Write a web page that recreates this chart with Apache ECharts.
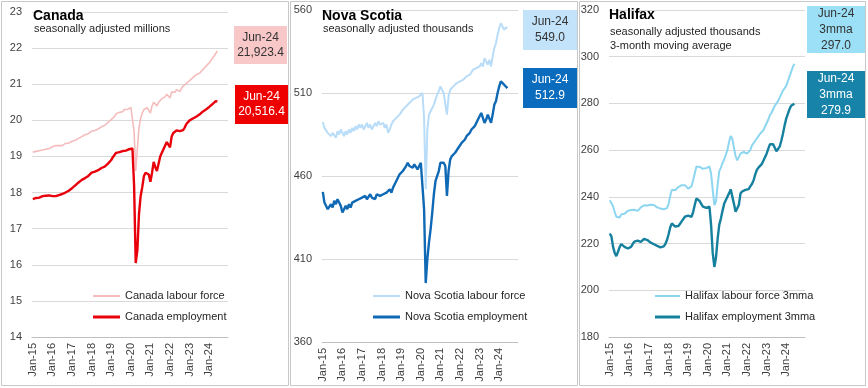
<!DOCTYPE html>
<html><head><meta charset="utf-8">
<script src="https://cdn.jsdelivr.net/npm/echarts@6/dist/echarts.min.js"></script>
<style>html,body{margin:0;padding:0;background:#fff}#c{width:868px;height:388px}</style>
</head><body><div id="c"></div>
<script>
const monthNames = ['Jan','Feb','Mar','Apr','May','Jun','Jul','Aug','Sep','Oct','Nov','Dec'];
const yearLabels = ['15','16','17','18','19','20','21','22','23','24'];
const categories = [];
yearLabels.forEach(y => monthNames.forEach(m => categories.push(m + '-' + y)));

// Canada, millions (Jan-15 .. Jun-24)
const canadaLabourForce = [
19.12,19.15,19.14,19.18,19.16,19.20,19.18,19.22,19.20,19.24,19.22,19.25,
19.27,19.25,19.30,19.28,19.30,19.32,19.30,19.35,19.36,19.38,19.37,19.40,
19.42,19.44,19.45,19.48,19.50,19.52,19.55,19.56,19.60,19.62,19.63,19.66,
19.70,19.68,19.72,19.74,19.76,19.80,19.82,19.84,19.86,19.90,19.94,19.96,
20.02,20.05,20.10,20.18,20.20,20.22,20.25,20.24,20.30,20.32,20.30,20.33,
20.36,20.38,19.70,18.60,19.20,19.80,20.05,20.20,20.30,20.30,20.35,20.35,
20.20,20.40,20.50,20.45,20.40,20.50,20.55,20.60,20.60,20.65,20.72,20.75,
20.62,20.78,20.80,20.78,20.85,20.82,20.80,20.88,20.95,20.98,21.02,21.05,
21.10,21.15,21.18,21.22,21.26,21.28,21.30,21.34,21.40,21.45,21.50,21.55,
21.59,21.65,21.72,21.78,21.85,21.9234];
const canadaEmployment = [
17.82,17.87,17.85,17.88,17.86,17.87,17.90,17.88,17.91,17.90,17.92,17.93,
17.90,17.88,17.90,17.92,17.93,17.95,17.96,17.98,18.00,18.02,18.05,18.08,
18.12,18.16,18.20,18.24,18.28,18.32,18.35,18.38,18.40,18.44,18.46,18.50,
18.55,18.60,18.58,18.60,18.62,18.65,18.68,18.70,18.72,18.76,18.80,18.85,
18.90,18.98,19.02,19.10,19.12,19.12,19.14,19.15,19.18,19.16,19.18,19.20,
19.20,19.22,18.20,16.05,16.40,17.40,17.90,18.15,18.45,18.55,18.60,18.50,
18.30,18.55,18.85,18.70,18.60,18.80,19.00,19.10,19.20,19.25,19.40,19.45,
19.25,19.55,19.65,19.68,19.72,19.72,19.70,19.72,19.73,19.80,19.90,19.95,
20.00,20.02,20.05,20.08,20.10,20.14,20.16,20.20,20.24,20.28,20.30,20.33,
20.37,20.42,20.45,20.50,20.53,20.5164];

// Nova Scotia, thousands
const nsLabourForce = [
492.5,489,488,486,485,484,486,485,483,487,485,488,
486,484,487,485,488,486,489,487,490,488,491,489,
491,488,490,492,489,491,488,490,492,490,493,491,
490,492,489,491,486,488,491,493,492,495,494,497,
498,500,499,502,501,504,503,506,505,507,506,508,
509,510,495,452,488,497,499,501,503,506,509,511,
514,512,510,509,497,508,512,511,514,513,516,515,
517,516,518,518,520,519,521,522,524,523,525,524,
526,528,526,531,529,527,530,526,532,537,540,545,
549,552,550,548,549.5,549.0];
const nsEmployment = [
450.4,444,443,440,441,443,441,445,443,446,444,442,
438,440,442,440,443,441,444,443,445,444,446,445,
447,446,448,446,447,449,447,448,446,449,450,448,
447,449,448,450,449,452,450,453,455,457,458,461,
461,463,462,466,468,466,467,465,467,466,464,466,
468,469,440,395.5,410,420,428,438,449,457,458,463,
468,469,468,466,448,463,470,472,471,474,475,477,
478,480,479,482,484,483,486,488,487,490,492,494,
496,498,495,492,494,497,496,492,497,503,505,510,
514,517,516,515,514,512.9];

// Halifax, thousands, 3-month moving average
const hfxLabourForce = [
238.5,237.8,236,233.5,231.5,230.8,231.2,232.5,233,232.8,233.5,234,
234.2,234.4,234.6,234.5,234.3,234,234.6,235.5,236.2,236.4,236,236.3,
236.4,236.6,236.3,236.5,236,235.5,235.2,235,234.8,234.7,235,235.2,
237,240.5,243,243.2,242.8,243.5,244.2,244.8,245,245.2,245,244.5,
243.5,243,244.5,247,250,253,253.5,252.8,252.2,252,252,252.3,
252.8,253,250,243,236.5,238,245,251,252.5,254.5,256,258,
260,263.5,266,265,261,257.5,255.6,257,258.5,259,259.2,259,
258.5,259,260,262,263,264,265,266,267,267.7,268.5,270,
271.5,273,275,276,277.5,279,280,281,282.5,284,285.5,286.5,
287.5,289.5,291.5,293.5,295.5,297.0];
const hfxEmployment = [
224.3,223,218.6,216,214.6,216.5,218.5,219.8,219,218.6,218.3,217.9,
218.2,218.6,219.8,220.8,221.5,221.3,220.9,220.7,221.4,222,222.3,221.5,
221,220.4,220,219.7,219.3,219,218.6,218.4,218.2,218.8,219.8,221.5,
224,227,228.6,228,227.3,226.9,227.5,228.5,229.5,230.5,231.5,232,
232,231.5,231.4,233.5,236.5,239.3,239.5,238.2,237,235.8,235,235.3,
236,235.8,228,216,210,214,222,228,230.7,234,237,238.5,
239,241.5,243.2,242.5,237,233.6,232.8,236.5,241.4,242.3,242.8,243,
243,243.3,244.5,245.5,247,249.5,251.5,252.5,253,254,255.5,257,
258.5,260.5,262.5,263.3,262.5,261,259.5,260,261.5,264,267,270.5,
273.5,275.5,277.5,279,279.8,279.9];

const seriesNames = ['Canada labour force','Canada employment','Nova Scotia labour force','Nova Scotia employment','Halifax labour force 3mma','Halifax employment 3mma'];
const colors = ['#f4bcbc','#e8000b','#b9ddf8','#0f69b4','#8dd6f0','#16809f'];
const boxColors = ['#f8c7c7','#ee0000','#c2e3fa','#0b6cbd','#9be0f6','#1783a8'];

const FONT = '"Liberation Sans", Arial, sans-serif';
const lastCat = categories[canadaLabourForce.length - 1];
const fmt = v => v.toLocaleString('en-US', {minimumFractionDigits:1, maximumFractionDigits:1});

const grids = [
  {left:32, width:196, top:12, height:325},
  {left:322, width:196, top:10, height:332},
  {left:609, width:196, top:10, height:327}
];
const yDefs = [{min:14,max:23,interval:1},{min:360,max:560,interval:50},{min:180,max:320,interval:20}];

const xAxes = grids.map((g,i) => ({
  type:'category', gridIndex:i, data:categories, boundaryGap:true,
  axisLine:{lineStyle:{color:'#bfbfbf'}},
  axisTick:{interval:11, length:5, lineStyle:{color:'#bfbfbf'}},
  axisLabel:{interval:11, rotate:90, margin:6, fontSize:11, color:'#404040', fontFamily:FONT},
  splitLine:{show:false}
}));
const yAxes = yDefs.map((d,i) => ({
  type:'value', gridIndex:i, min:d.min, max:d.max, interval:d.interval,
  axisLine:{show:false}, axisTick:{show:false},
  axisLabel:{fontSize:11, color:'#404040', margin:10, fontFamily:FONT},
  splitLine:{lineStyle:{color:'#d9d9d9', width:1}}
}));
const dataSets = [canadaLabourForce, canadaEmployment, nsLabourForce, nsEmployment, hfxLabourForce, hfxEmployment];
const widths = [1.6,2.4,2,2.4,2,2.4];
const series = dataSets.map((d,i) => ({
  name:seriesNames[i], type:'line', xAxisIndex:Math.floor(i/2), yAxisIndex:Math.floor(i/2),
  data:d, showSymbol:false, symbol:'none', z: i%2===0 ? 2 : 3,
  lineStyle:{color:colors[i], width:widths[i]}, itemStyle:{color:colors[i]},
  emphasis:{disabled:true}, animation:false
}));

const legendPos = [[93,289],[93,310],[373,289],[373,310],[655,289],[655,310]];
const legends = seriesNames.map((n,i) => ({
  data:[n], left:legendPos[i][0], top:legendPos[i][1], icon:'rect',
  itemWidth: i>=4 ? 25 : 27, itemHeight: i%2===0 ? 2 : 3, padding:0, selectedMode:false,
  textStyle:{fontSize:11, color:'#262626', fontFamily:FONT, lineHeight:14}
}));

// annotation boxes
const boxes = [
  {x:234,y:26,w:53,h:38, lines:[lastCat, fmt(canadaLabourForce[canadaLabourForce.length-1]*1000)], fill:boxColors[0], tc:'#333', lh:15},
  {x:235,y:85,w:53,h:39, lines:[lastCat, fmt(canadaEmployment[canadaEmployment.length-1]*1000)], fill:boxColors[1], tc:'#fff', lh:15},
  {x:523,y:10,w:54,h:40, lines:[lastCat, fmt(nsLabourForce[nsLabourForce.length-1])], fill:boxColors[2], tc:'#333', lh:16},
  {x:523,y:68,w:54,h:40, lines:[lastCat, fmt(nsEmployment[nsEmployment.length-1])], fill:boxColors[3], tc:'#fff', lh:16},
  {x:807,y:6,w:58,h:47, lines:[lastCat,'3mma', fmt(hfxLabourForce[hfxLabourForce.length-1])], fill:boxColors[4], tc:'#333', lh:16},
  {x:807,y:71,w:58,h:47, lines:[lastCat,'3mma', fmt(hfxEmployment[hfxEmployment.length-1])], fill:boxColors[5], tc:'#fff', lh:16}
];
const graphic = [];
// panel borders
[[1,1,287,384],[290,1,287,384],[579,1,286,384]].forEach(r => graphic.push({
  type:'rect', shape:{x:r[0]+0.5,y:r[1]+0.5,width:r[2],height:r[3]}, style:{fill:'none', stroke:'#c8c8c8', lineWidth:1}, z:0, silent:true
}));
boxes.forEach(b => {
  graphic.push({type:'rect', shape:{x:b.x,y:b.y,width:b.w,height:b.h}, style:{fill:b.fill}, z:10, silent:true});
  graphic.push({type:'text', x:b.x+b.w/2, y:b.y+b.h/2, z:11, silent:true,
    style:{text:b.lines.join('\n'), fill:b.tc, font:'12px '+FONT, align:'center', verticalAlign:'middle', lineHeight:b.lh}});
});
// titles
const titles = [
  {x:33, y:16.5, t:'Canada', subs:['seasonally adjusted millions'], sx:34, sy:[28.5]},
  {x:322, y:16.5, t:'Nova Scotia', subs:['seasonally adjusted thousands'], sx:323, sy:[29]},
  {x:609, y:15.5, t:'Halifax', subs:['seasonally adjusted thousands','3-month moving average'], sx:610, sy:[31.5,45.5]}
];
titles.forEach(t => {
  graphic.push({type:'text', x:t.x, y:t.y, z:12, silent:true, style:{text:t.t, fill:'#000', font:'bold 14px '+FONT, align:'left', verticalAlign:'middle'}});
  t.subs.forEach((s,k) => graphic.push({type:'text', x:t.sx, y:t.sy[k], z:12, silent:true, style:{text:s, fill:'#262626', font:'11px '+FONT, align:'left', verticalAlign:'middle'}}));
});

const chart = echarts.init(document.getElementById('c'), null, {renderer:'canvas'});
chart.setOption({
  backgroundColor:'#fff', animation:false,
  grid:grids, xAxis:xAxes, yAxis:yAxes, series:series, legend:legends, graphic:graphic
});
</script></body></html>
